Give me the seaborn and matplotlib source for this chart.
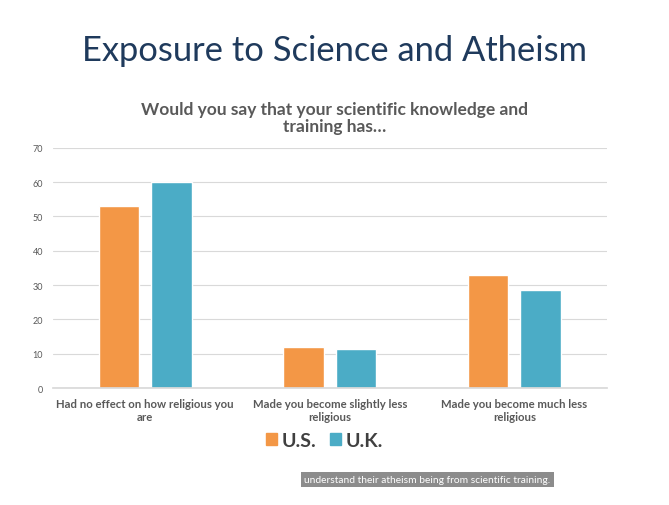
import numpy as np
import pandas as pd
import matplotlib.pyplot as plt
import seaborn as sns

# data
categories = ['Had no effect on how religious you\nare',
              'Made you become slightly less\nreligious',
              'Made you become much less\nreligious']
us_values = [53, 12, 33]
uk_values = [60, 11.5, 28.5]
countries = ['U.S.', 'U.K.']

df = pd.DataFrame({
    'Answer': categories * 2,
    'Country': ['U.S.'] * 3 + ['U.K.'] * 3,
    'Percent': us_values + uk_values,
})

sns.set_theme(style='white')
plt.rcParams['font.family'] = ['Lato', 'DejaVu Sans']

fig = plt.figure(figsize=(6.69, 5.06), dpi=100)
ax = fig.add_axes([0.079, 0.231, 0.828, 0.475])

palette = {'U.S.': '#F39746', 'U.K.': '#4BACC6'}
sns.barplot(data=df, x='Answer', y='Percent', hue='Country', hue_order=countries,
            palette=palette, width=0.568, gap=0.23, saturation=1, ax=ax,
            legend=False)

ax.set_ylim(0, 70)
ax.set_xlim(-0.5, 2.5)
ax.set_yticks(range(0, 71, 10))
ax.yaxis.grid(True, color='#D9D9D9', linewidth=0.8)
ax.set_axisbelow(True)
for s in ['top', 'right', 'left']:
    ax.spines[s].set_visible(False)
ax.spines['bottom'].set_color('#D9D9D9')
ax.set_xlabel('')
ax.set_ylabel('')
ax.tick_params(axis='y', labelsize=6.5, labelcolor='#595959', length=0, pad=7)
ax.tick_params(axis='x', labelsize=8.2, labelcolor='#595959', length=0, pad=7)
for t in ax.get_xticklabels():
    t.set_fontweight('bold')
    t.set_linespacing(1.25)

# title and subtitle
fig.text(0.5, 0.9, 'Exposure to Science and Atheism', ha='center', va='center',
         fontsize=24.8, color='#1F3A5C')
fig.text(0.5, 0.766, 'Would you say that your scientific knowledge and\ntraining has\u2026',
         ha='center', va='center', fontsize=12.5, fontweight='bold',
         color='#595959', linespacing=1.1)

# legend
handles = [plt.Rectangle((0, 0), 1, 1, color=palette[c]) for c in countries]
fig.legend(handles, countries, loc='center', bbox_to_anchor=(0.485, 0.128),
           ncol=2, frameon=False, handlelength=0.55, handleheight=0.55,
           handletextpad=0.25, columnspacing=0.7,
           prop={'weight': 'bold', 'size': 14})
for t in fig.legends[0].get_texts():
    t.set_color('#404040')

# caption
fig.text(0.639, 0.05, 'understand their atheism being from scientific training.',
         ha='center', va='center', fontsize=7.4, color='white',
         bbox=dict(boxstyle='square,pad=0.3', facecolor='#8C8C8C', edgecolor='none'))

fig.savefig('out.png', dpi=100, facecolor='white')
